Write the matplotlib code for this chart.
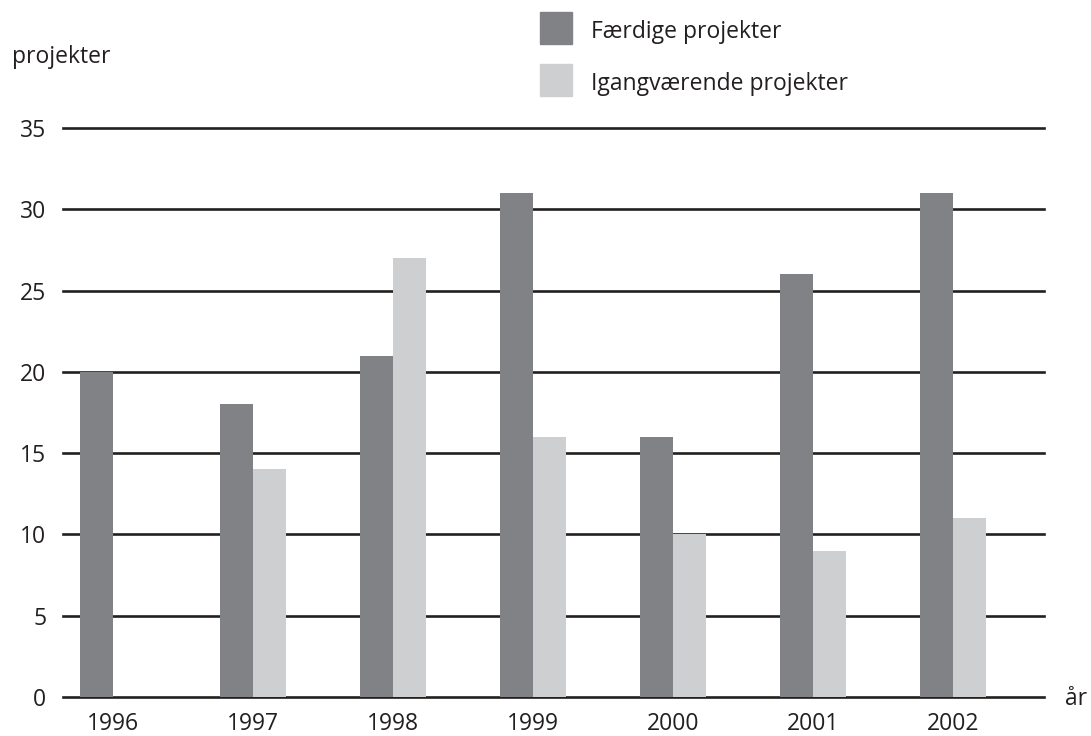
import matplotlib
matplotlib.use("Agg")
import matplotlib.pyplot as plt
from matplotlib.patches import Rectangle
import numpy as np

# data
years = ["1996", "1997", "1998", "1999", "2000", "2001", "2002"]
faerdige = [20, 18, 21, 31, 16, 26, 31]
igangvaerende = [0, 14, 27, 16, 10, 9, 11]
yticks = [0, 5, 10, 15, 20, 25, 30, 35]
series_names = ["Færdige projekter", "Igangværende projekter"]

DARK = "#808285"
LIGHT = "#cdcfd1"
INK = "#231f20"
W, H = 1091, 736

plt.rcParams["font.family"] = ["Open Sans", "DejaVu Sans"]

fig = plt.figure(figsize=(W / 100, H / 100), dpi=100)
ax = fig.add_axes([63 / W, 1 - 697 / H, 981 / W, 569 / H])

x = np.arange(len(years))
w = 0.236
ax.bar(x - w / 2, faerdige, w, color=DARK, label=series_names[0], zorder=3)
ax.bar(x + w / 2, igangvaerende, w, color=LIGHT, label=series_names[1], zorder=3)

ax.set_xlim(-50 / 140, (1044 - 113) / 140)
ax.set_ylim(0, 35)
ax.set_yticks(yticks)
ax.set_xticks(x)
ax.set_xticklabels(years)
ax.tick_params(axis="both", length=0, labelsize=16.5, colors=INK)
ax.tick_params(axis="y", pad=12)
ax.tick_params(axis="x", pad=11)

ax.set_axisbelow(True)
ax.yaxis.grid(True, color=INK, linewidth=1.9)
for gl in ax.get_ygridlines():
    gl.set_clip_on(False)
for s in ax.spines.values():
    s.set_visible(False)

fig.text(12 / W, 1 - 63 / H, "projekter", fontsize=16.5, color=INK, ha="left", va="baseline")
fig.text(1065 / W, 1 - 705 / H, "år", fontsize=16.5, color=INK, ha="left", va="baseline")

# legend: squares with labels at the top
for i, (name, col) in enumerate(zip(series_names, [DARK, LIGHT])):
    top = 12 + i * 52
    fig.patches.append(Rectangle((540 / W, 1 - (top + 32) / H), 32 / W, 32 / H,
                                 transform=fig.transFigure, color=col))
    fig.text(591 / W, 1 - (top + 26) / H, name, fontsize=16.5, color=INK,
             ha="left", va="baseline")

fig.savefig("out.png", dpi=100)
